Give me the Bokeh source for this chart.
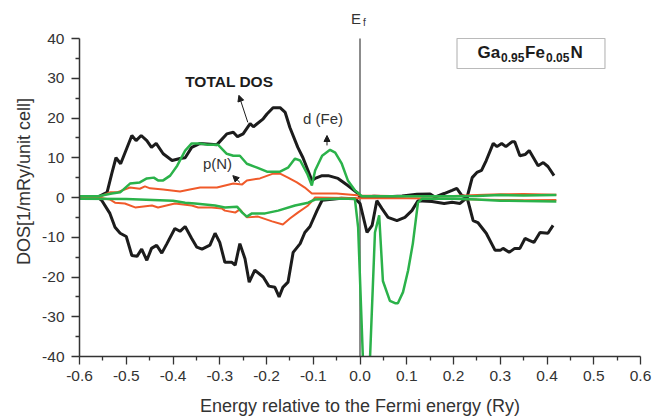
from bokeh.plotting import figure
from bokeh.models import (Range1d, FixedTicker, PrintfTickFormatter, Label,
                          BoxAnnotation, Arrow, NormalHead)
from bokeh.embed import file_html
from bokeh.resources import INLINE

# ---------------- data ----------------
tot_up_x = [-0.60, -0.563, -0.541, -0.531, -0.522, -0.512, -0.488, -0.479, -0.468, -0.456, -0.446,
            -0.436, -0.421, -0.402, -0.385, -0.374, -0.360, -0.342, -0.306, -0.285, -0.271, -0.262,
            -0.250, -0.235, -0.228, -0.207, -0.199, -0.186, -0.171, -0.160, -0.150, -0.133, -0.122,
            -0.103, -0.096, -0.081, -0.068, -0.047, -0.026, -0.004, 0.0, 0.03, 0.06, 0.09, 0.122,
            0.150, 0.160, 0.180, 0.197, 0.207, 0.218, 0.229, 0.240, 0.250, 0.260, 0.270, 0.285,
            0.293, 0.303, 0.312, 0.325, 0.331, 0.342, 0.353, 0.362, 0.381, 0.392, 0.402, 0.415]
tot_up_y = [0, 0, 1.3, 6, 10, 8.5, 15.6, 14.3, 15.6, 14.3, 12.6,
            13.6, 11, 9.3, 9.8, 10, 12.6, 13.6, 13.3, 16, 16.4, 15.3,
            16, 18.6, 17.8, 19.8, 21, 22.6, 22.6, 21.4, 17.6, 12.6, 10,
            4.3, 4.8, 5.5, 5.5, 4.8, 3, 1, 0, 0.3, 0.2, 0.4, 0.8,
            0.9, 0.1, 1, 1.8, 2.3, 0.5, 0, 5, 6.3, 6.8, 9.3, 13.6,
            12.8, 13.6, 12.8, 14, 14, 10.5, 10.8, 11.8, 8, 8.8, 7.8, 5.5]

tot_dn_x = [-0.60, -0.56, -0.552, -0.535, -0.524, -0.513, -0.500, -0.488, -0.477, -0.467, -0.456,
            -0.446, -0.435, -0.424, -0.413, -0.396, -0.385, -0.374, -0.360, -0.349, -0.338, -0.321,
            -0.310, -0.300, -0.289, -0.274, -0.267, -0.257, -0.246, -0.237, -0.225, -0.207, -0.195,
            -0.182, -0.173, -0.165, -0.154, -0.143, -0.128, -0.118, -0.107, -0.092, -0.081, -0.04,
            -0.01, 0.0, 0.015, 0.026, 0.036, 0.047, 0.060, 0.079, 0.096, 0.111, 0.124, 0.154,
            0.180, 0.197, 0.214, 0.229, 0.242, 0.252, 0.270, 0.289, 0.300, 0.306, 0.319, 0.331,
            0.342, 0.353, 0.362, 0.372, 0.385, 0.402, 0.413]
tot_dn_y = [0, 0, -0.8, -4, -7.5, -9, -9.8, -14.6, -14.8, -13, -15.8,
            -12.8, -12, -14, -11.6, -7.8, -8.5, -7.3, -10.3, -12.5, -13, -12,
            -9, -11.3, -16.3, -16.3, -17, -11.6, -15.4, -21.3, -18.3, -20, -22.3,
            -22.6, -25, -22.6, -21.3, -13.8, -11.6, -8.8, -7.3, -3.3, -0.7, -0.2,
            -0.3, -1.5, -8.8, -7, -0.8, -2.8, -5, -5.8, -5, -3.3, -0.8, -1,
            -1.5, -1.2, -1.5, 0, -5.8, -6.3, -9, -13.3, -13.3, -12.8, -13.8, -12.8,
            -12.8, -10.3, -10.8, -11.3, -8.8, -9, -7]

fe_up_x = [-0.60, -0.56, -0.531, -0.513, -0.492, -0.471, -0.456, -0.441, -0.432, -0.421, -0.406,
           -0.391, -0.374, -0.360, -0.342, -0.327, -0.304, -0.285, -0.271, -0.257, -0.242, -0.220,
           -0.199, -0.171, -0.154, -0.139, -0.128, -0.113, -0.103, -0.096, -0.081, -0.064, -0.053,
           -0.039, -0.026, -0.011, 0.004, 0.1, 0.2, 0.25, 0.30, 0.35, 0.42]
fe_up_y = [0.3, 0.3, 1, 1.3, 3.5, 3.8, 4.8, 5, 4.3, 4.3, 5.5,
           8, 11.8, 13.6, 13.6, 13.3, 13.3, 11, 10.5, 10.5, 8.5, 7.5,
           6.5, 6.5, 7.5, 9.8, 9.3, 6, 3, 6.8, 10.5, 12, 11.3,
           8.5, 4.3, 1.8, 0.3, 0.3, 0.3, 0.4, 0.6, 0.5, 0.6]

fe_dn_x = [-0.60, -0.50, -0.40, -0.374, -0.353, -0.310, -0.289, -0.263, -0.252, -0.242, -0.231,
           -0.203, -0.175, -0.139, -0.111, -0.096, -0.05, -0.011, -0.004, 0.0135, 0.032, 0.041,
           0.049, 0.064, 0.075, 0.081, 0.092, 0.103, 0.113, 0.124, 0.133, 0.2, 0.25, 0.30,
           0.35, 0.42]
fe_dn_y = [-0.3, -0.4, -0.8, -1.3, -1.5, -2, -2.5, -2.3, -3.8, -4.8, -4,
           -4, -3.3, -2, -1.3, -0.5, -0.3, -0.3, -7.5, -64, -8.8, -4.5,
           -21, -26, -26.6, -26.6, -23.8, -18.3, -11.6, -1.3, -0.3, -0.3, -0.5, -0.8,
           -0.9, -1.0]

pn_up_x = [-0.60, -0.56, -0.535, -0.520, -0.492, -0.471, -0.460, -0.449, -0.421, -0.385, -0.364,
           -0.342, -0.306, -0.271, -0.252, -0.242, -0.214, -0.186, -0.171, -0.154, -0.135, -0.118,
           -0.103, -0.05, 0.0, 0.1, 0.2, 0.25, 0.30, 0.35, 0.42]
pn_up_y = [0, 0, 1.3, 1.3, 2.5, 2.2, 2.8, 2.3, 2, 1.5, 2,
           2.5, 2.5, 3.5, 3.3, 4.3, 4.8, 6, 6, 5, 3.8, 2.5,
           1, 1, 0.5, 0.3, 0.4, 0.6, 0.8, 0.9, 0.7]

pn_dn_x = [-0.60, -0.56, -0.535, -0.524, -0.503, -0.481, -0.445, -0.432, -0.396, -0.360, -0.346,
           -0.317, -0.295, -0.289, -0.267, -0.257, -0.242, -0.218, -0.188, -0.165, -0.150, -0.133,
           -0.111, -0.096, 0.0, 0.1, 0.2, 0.25, 0.30, 0.35, 0.42]
pn_dn_y = [0, 0, -0.5, -1.3, -1.5, -2.5, -2, -2.5, -1.5, -2, -2.5,
           -2.5, -2.8, -3.3, -3.8, -3, -5, -4.8, -6, -6.8, -5.3, -3.8,
           -2, 0, -0.2, -0.2, -0.3, -0.5, -0.6, -0.7, -0.6]

x_ticks = [-0.6, -0.5, -0.4, -0.3, -0.2, -0.1, 0.0, 0.1, 0.2, 0.3, 0.4, 0.5, 0.6]
x_minor = [-0.55, -0.45, -0.35, -0.25, -0.15, -0.05, 0.05, 0.15, 0.25, 0.35, 0.45, 0.55]
y_ticks = [-40, -30, -20, -10, 0, 10, 20, 30, 40]
y_minor = [-35, -25, -15, -5, 5, 15, 25, 35]
x_lim = (-0.6, 0.6)
y_lim = (-40, 40)
fermi_energy = 0.0

# annotation texts
title_parts = ["Ga", "0.95", "Fe", "0.05", "N"]
lbl_total = "TOTAL DOS"
lbl_pn = "p(N)"
lbl_dfe = "d (Fe)"

FONT = "Liberation Sans"
BLACK = "#1c1c1c"
GREEN = "#2bb24a"
ORANGE = "#f05a2a"
AX = "#333333"

# frame extends above y=40 by 32px to host the E_f label; axis bounded to [-40, 40]
PX_PER_UNIT = 318 / (y_lim[1] - y_lim[0])
y_top = y_lim[1] + 32 / PX_PER_UNIT

p = figure(frame_width=561, frame_height=350, min_border_left=79, min_border_right=23,
           min_border_top=6, min_border_bottom=64,
           x_range=Range1d(*x_lim), y_range=Range1d(y_lim[0], y_top),
           output_backend="svg", toolbar_location=None, background_fill_color="white")
p.outline_line_color = None
p.grid.visible = False

# axes
p.xaxis.ticker = FixedTicker(ticks=x_ticks, minor_ticks=x_minor)
p.yaxis.ticker = FixedTicker(ticks=y_ticks, minor_ticks=y_minor)
p.xaxis.formatter = PrintfTickFormatter(format="%.1f")
p.yaxis.formatter = PrintfTickFormatter(format="%d")
p.yaxis.bounds = y_lim
for ax in (p.xaxis[0], p.yaxis[0]):
    ax.axis_line_color = AX
    ax.axis_line_width = 1.5
    ax.major_tick_line_color = AX
    ax.minor_tick_line_color = AX
    ax.major_tick_line_width = 1.3
    ax.minor_tick_line_width = 1.3
    ax.major_tick_in = 0
    ax.major_tick_out = 8
    ax.minor_tick_in = 0
    ax.minor_tick_out = 4
    ax.major_label_text_font = FONT
    ax.major_label_text_font_size = "15.5px"
    ax.major_label_text_color = AX
    ax.axis_label_text_font = FONT
    ax.axis_label_text_font_size = "18px"
    ax.axis_label_text_font_style = "normal"
    ax.axis_label_text_color = AX
p.xaxis.axis_label = "Energy relative to the Fermi energy (Ry)"
p.yaxis.axis_label = "DOS[1/mRy/unit cell]"
p.xaxis.major_label_standoff = 6
p.yaxis.major_label_standoff = 7
p.xaxis.axis_label_standoff = 12
p.yaxis.axis_label_standoff = 5

# Fermi level
p.segment(x0=[fermi_energy], y0=[y_lim[0]], x1=[fermi_energy], y1=[y_lim[1]],
          line_color="#666666", line_width=1.5)

# curves
p.line(tot_up_x, tot_up_y, line_color=BLACK, line_width=3)
p.line(tot_dn_x, tot_dn_y, line_color=BLACK, line_width=3)
p.line(pn_up_x, pn_up_y, line_color=ORANGE, line_width=2)
p.line(pn_dn_x, pn_dn_y, line_color=ORANGE, line_width=2)
p.line(fe_up_x, fe_up_y, line_color=GREEN, line_width=2.5)
p.line(fe_dn_x, fe_dn_y, line_color=GREEN, line_width=2.5)

# E_f label
p.add_layout(Label(x=fermi_energy, y=y_lim[1], x_offset=-9, y_offset=20, text="E",
                   text_font=FONT, text_font_size="15px", text_color=AX,
                   text_baseline="alphabetic"))
p.add_layout(Label(x=fermi_energy, y=y_lim[1], x_offset=3, y_offset=16, text="f",
                   text_font=FONT, text_font_size="10px", text_color=AX,
                   text_baseline="alphabetic"))

# compound box
p.add_layout(BoxAnnotation(left=0.2075, right=0.524, top=40, bottom=32.45,
                           fill_color=None, line_color=BLACK, line_width=1.2))
offs = [0, 23.5, 47.5, 68.5, 93]
sizes = ["17px", "12px", "17px", "12px", "17px"]
ys = [34.6, 33.4, 34.6, 33.4, 34.6]
for t, o, s, yy in zip(title_parts, offs, sizes, ys):
    p.add_layout(Label(x=0.2515, y=yy, x_offset=o, y_offset=7, text=t, text_font=FONT,
                       text_font_size=s, text_font_style="bold", text_color=BLACK,
                       text_baseline="alphabetic"))

# annotations
p.add_layout(Label(x=-0.374, y=27.9, y_offset=5, text=lbl_total, text_font=FONT,
                   text_font_size="15.5px", text_font_style="bold", text_color=BLACK,
                   text_baseline="alphabetic"))
p.add_layout(Label(x=-0.336, y=7.8, y_offset=3, text=lbl_pn, text_font=FONT,
                   text_font_size="15px", text_color=AX, text_baseline="alphabetic"))
p.add_layout(Label(x=-0.122, y=18.9, y_offset=4, text=lbl_dfe, text_font=FONT,
                   text_font_size="15px", text_color=AX, text_baseline="alphabetic"))

for (x0, y0, x1, y1) in [(-0.240, 18.9, -0.259, 25.7), (-0.257, 3.8, -0.272, 5.5),
                         (-0.0706, 13.1, -0.0706, 15.6)]:
    p.add_layout(Arrow(x_start=x0, y_start=y0, x_end=x1, y_end=y1, line_color=BLACK,
                       line_width=1,
                       end=NormalHead(size=6, fill_color=BLACK, line_color=BLACK)))

open("out.html", "w").write(file_html(p, INLINE))
